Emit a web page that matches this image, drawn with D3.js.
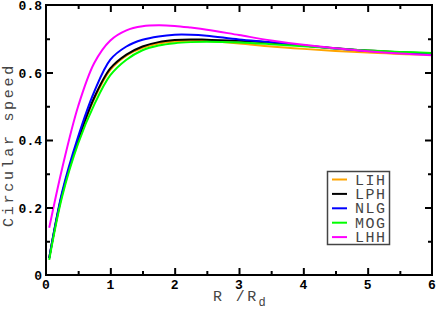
<!DOCTYPE html>
<html>
<head>
<meta charset="utf-8">
<script src="https://cdn.jsdelivr.net/npm/d3@7"></script>
<style>
  body { margin: 0; background: #fff; }
  svg { display: block; }
</style>
</head>
<body>
<script>
// radius in units of disc scale length
var radii = [0.05, 0.25, 0.5, 0.75, 1.0, 1.25, 1.5, 1.75, 2.0, 2.25, 2.5, 3.0, 3.5, 4.0, 4.5, 5.0, 5.5, 6.0];

// circular speed per model
var lih = [0.050, 0.238, 0.397, 0.522, 0.608, 0.650, 0.673, 0.686, 0.692, 0.694, 0.693, 0.686, 0.677, 0.670, 0.664, 0.659, 0.655, 0.653];
var lph = [0.050, 0.240, 0.400, 0.526, 0.612, 0.653, 0.677, 0.690, 0.696, 0.698, 0.697, 0.694, 0.688, 0.680, 0.672, 0.665, 0.660, 0.656];
var nlg = [0.050, 0.245, 0.410, 0.543, 0.638, 0.677, 0.697, 0.707, 0.712, 0.712, 0.709, 0.698, 0.690, 0.680, 0.671, 0.664, 0.659, 0.655];
var mog = [0.045, 0.232, 0.390, 0.505, 0.592, 0.638, 0.666, 0.680, 0.687, 0.690, 0.691, 0.689, 0.684, 0.678, 0.671, 0.665, 0.661, 0.658];
var lhh = [0.140, 0.315, 0.500, 0.628, 0.695, 0.725, 0.737, 0.740, 0.738, 0.733, 0.727, 0.711, 0.695, 0.682, 0.672, 0.663, 0.656, 0.651];

var names = ["LIH", "LPH", "NLG", "MOG", "LHH"];
var colors = ["#ffa500", "#000000", "#0000ff", "#00ff00", "#ff00ff"];
var series = [lih, lph, nlg, mog, lhh];

var xTicks = [0, 1, 2, 3, 4, 5, 6];
var yTicks = [0, 0.2, 0.4, 0.6, 0.8];

var W = 436, H = 312;
// note: "top" clashes with window.top, so plain names
var pL = 46, pR = 432, pT = 5, pB = 275;

var svg = d3.select("body").append("svg")
	.attr("width", W)
	.attr("height", H);

var x = d3.scaleLinear().domain([0, 6]).range([pL, pR]);
var y = d3.scaleLinear().domain([0, 0.8]).range([pB, pT]);

// curves first, frame drawn over them
var line = d3.line()
	.x(function (d) { return x(d[0]); })
	.y(function (d) { return y(d[1]); })
	.curve(d3.curveCatmullRom);

series.forEach(function (s, i) {
	svg.append("path")
		.datum(radii.map(function (r, k) { return [r, s[k]]; }))
		.attr("d", line)
		.attr("fill", "none")
		.attr("stroke", colors[i])
		.attr("stroke-width", 2);
});

// ticks point inward on all four sides
var minorX = d3.range(0.5, 6, 1);
var minorY = d3.range(0.1, 0.8, 0.2);

function tickAxis(axisFn, scale, vals, len, tr) {
	var g = svg.append("g")
		.attr("transform", tr)
		.call(axisFn(scale).tickValues(vals).tickSizeInner(-len).tickSizeOuter(0).tickFormat(""));
	g.select(".domain").remove();
	g.selectAll("line").attr("stroke", "#000").attr("stroke-width", 2);
	return g;
}

tickAxis(d3.axisBottom, x, xTicks.slice(1, -1), 7, "translate(0," + pB + ")");
tickAxis(d3.axisBottom, x, minorX, 4, "translate(0," + pB + ")");
tickAxis(d3.axisTop, x, xTicks.slice(1, -1), 7, "translate(0," + pT + ")");
tickAxis(d3.axisTop, x, minorX, 4, "translate(0," + pT + ")");
tickAxis(d3.axisLeft, y, yTicks.slice(1, -1), 7, "translate(" + pL + ",0)");
tickAxis(d3.axisLeft, y, minorY, 4, "translate(" + pL + ",0)");
tickAxis(d3.axisRight, y, yTicks.slice(1, -1), 7, "translate(" + pR + ",0)");
tickAxis(d3.axisRight, y, minorY, 4, "translate(" + pR + ",0)");

svg.append("rect")
	.attr("x", pL).attr("y", pT)
	.attr("width", pR - pL).attr("height", pB - pT)
	.attr("fill", "none")
	.attr("stroke", "#000")
	.attr("stroke-width", 2);

// tick labels
var lblFont = "'Liberation Mono', 'DejaVu Sans Mono', monospace";
svg.append("g").selectAll("text")
	.data(xTicks).enter().append("text")
	.attr("x", function (d) { return x(d); })
	.attr("y", 289)
	.attr("text-anchor", "middle")
	.style("font-family", lblFont)
	.style("font-weight", "bold")
	.style("font-size", "13px")
	.text(function (d) { return d; });

svg.append("g").selectAll("text")
	.data(yTicks).enter().append("text")
	.attr("x", 42)
	.attr("y", function (d) { return y(d) + 5; })
	.attr("text-anchor", "end")
	.style("font-family", lblFont)
	.style("font-weight", "bold")
	.style("font-size", "13px")
	.text(function (d) { return d === 0 ? "0" : d.toFixed(1); });

// axis titles, wide-set like the original
var titleFont = "'Liberation Mono', 'Courier New', monospace";
svg.append("text")
	.attr("transform", "translate(13,145) rotate(-90)")
	.attr("text-anchor", "middle")
	.style("font-family", titleFont)
	.style("font-size", "15px")
	.style("letter-spacing", "2.7px")
	.style("fill", "#444")
	.text("Circular speed");

var xt = svg.append("text")
	.attr("x", 213)
	.attr("y", 301)
	.style("font-family", titleFont)
	.style("font-size", "15px")
	.style("letter-spacing", "2.4px")
	.style("fill", "#444");
xt.append("tspan").text("R /R");
xt.append("tspan").attr("dy", 5).style("font-size", "12px").text("d");

// legend
var lg = svg.append("g");
lg.append("rect")
	.attr("x", 327.5).attr("y", 171.5)
	.attr("width", 62).attr("height", 73)
	.attr("fill", "#fff")
	.attr("stroke", "#444")
	.attr("stroke-width", 1.5);

var rows = lg.selectAll("g.row")
	.data(names).enter().append("g")
	.attr("class", "row")
	.attr("transform", function (d, i) { return "translate(0," + (179.5 + i * 14.4) + ")"; });
rows.append("line")
	.attr("x1", 332).attr("x2", 347)
	.attr("stroke", function (d, i) { return colors[i]; })
	.attr("stroke-width", 2);
rows.append("text")
	.attr("x", 355)
	.attr("y", 5)
	.style("font-family", titleFont)
	.style("font-size", "15px")
	.style("letter-spacing", "1.5px")
	.style("fill", "#444")
	.text(function (d) { return d; });
</script>
</body>
</html>
